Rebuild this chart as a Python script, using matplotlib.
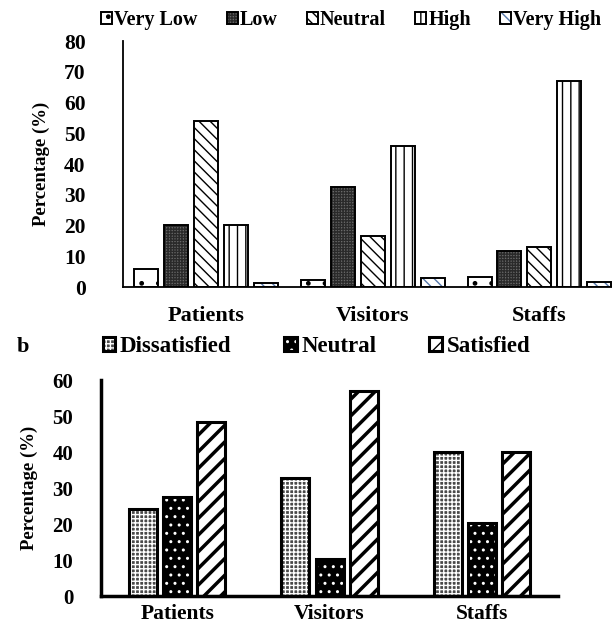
import matplotlib
matplotlib.use('Agg')
import matplotlib.pyplot as plt
import numpy as np

groups = ['Patients', 'Visitors', 'Staffs']

# panel a - perception levels (%)
levels = ['Very Low', 'Low', 'Neutral', 'High', 'Very High']
very_low = [6.0, 2.3, 3.3]
low = [20.2, 32.5, 11.8]
neutral_a = [54.0, 16.6, 13.0]
high = [20.2, 46.0, 67.0]
very_high = [1.3, 2.8, 1.7]

# panel b - satisfaction (%)
satisfaction = ['Dissatisfied', 'Neutral', 'Satisfied']
dissatisfied = [24.2, 32.9, 40.0]
neutral_b = [27.5, 10.4, 20.3]
satisfied = [48.4, 57.0, 40.0]

plt.rcParams['font.family'] = ['Liberation Serif', 'DejaVu Serif']
plt.rcParams['font.weight'] = 'bold'

fig = plt.figure(figsize=(6.12, 6.26), dpi=100)


def hatched_bar(ax, x, h, w, face, hcol, hatch, lw, hlw=1.0):
    # fill + hatch first, then a black outline on top
    with plt.rc_context({'hatch.linewidth': hlw}):
        b1 = ax.bar(x, h, w, color=face, edgecolor=hcol, hatch=hatch, linewidth=0)
    b2 = ax.bar(x, h, w, fill=False, edgecolor='black', linewidth=lw)
    return b1, b2


def style_axes(ax, ymax, step, lw, fs_y, fs_x, pad_y, pad_x):
    for s in ['top', 'right']:
        ax.spines[s].set_visible(False)
    ax.spines['left'].set_linewidth(lw)
    ax.spines['bottom'].set_linewidth(lw)
    ax.set_ylim(0, ymax)
    ax.set_yticks(np.arange(0, ymax + 1, step))
    ax.set_xlim(-0.5, 2.5)
    ax.set_xticks(range(len(groups)))
    ax.set_xticklabels(groups)
    ax.tick_params(axis='y', length=0, labelsize=fs_y, pad=pad_y)
    ax.tick_params(axis='x', length=0, labelsize=fs_x, pad=pad_x)
    ax.set_ylabel('Percentage (%)', fontsize=13.5, fontweight='bold')


# ---- panel a ----
ax1 = fig.add_axes([0.201, 0.5415, 0.8166, 0.393])
series_a = [very_low, low, neutral_a, high, very_high]
styles_a = [('white', 'black', '.'),
            ('#6a6a6a', '#2a2a2a', '++++++'),
            ('white', 'black', '\\\\\\'),
            ('white', 'black', '||'),
            ('white', '#5577aa', '\\\\\\')]
x = np.arange(len(groups))
pitch_a, width_a = 0.18, 0.144
handles_a = []
for i, (vals, st) in enumerate(zip(series_a, styles_a)):
    off = (i - 2) * pitch_a
    b1, b2 = hatched_bar(ax1, x + off, vals, width_a, st[0], st[1], st[2], 1.4)
    handles_a.append((b1, b2))
style_axes(ax1, 80, 10, 1.3, 15.5, 16, 27, 14)
ax1.yaxis.labelpad = 10
fig.legend(handles_a, levels, loc='center', bbox_to_anchor=(0.574, 0.968), ncol=5,
           frameon=False, fontsize=14.5, handlelength=0.55, handleheight=0.55,
           handletextpad=0.1, columnspacing=1.45)

# ---- panel b ----
ax2 = fig.add_axes([0.165, 0.0479, 0.747, 0.345])
series_b = [dissatisfied, neutral_b, satisfied]
styles_b = [('#4a4a4a', 'white', '++++'),
            ('black', 'white', '..'),
            ('white', 'black', '//')]
hlws = [1.0, 1.0, 2.5]
pitch_b, width_b = 0.224, 0.184
handles_b = []
for i, (vals, st) in enumerate(zip(series_b, styles_b)):
    off = (i - 1) * pitch_b
    b1, b2 = hatched_bar(ax2, x + off, vals, width_b, st[0], st[1], st[2], 2.2, hlws[i])
    handles_b.append((b1, b2))
style_axes(ax2, 60, 10, 2.5, 15, 15.5, 20, 6)
ax2.yaxis.labelpad = 10
fig.legend(handles_b, satisfaction, loc='center', bbox_to_anchor=(0.517, 0.446), ncol=3,
           frameon=False, fontsize=16.5, handlelength=0.55, handleheight=0.55,
           handletextpad=0.2, columnspacing=2.3)
fig.text(0.037, 0.446, 'b', fontsize=16, fontweight='bold', ha='center', va='center')

fig.savefig('out.png', dpi=100)
